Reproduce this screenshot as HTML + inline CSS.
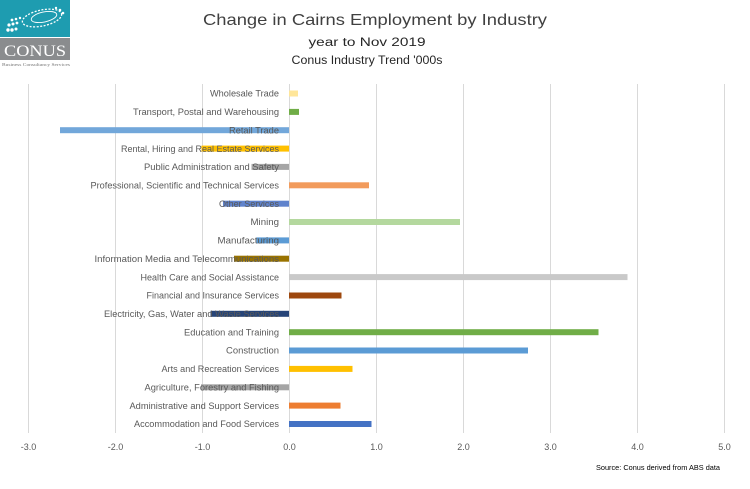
<!DOCTYPE html>
<html><head><meta charset="utf-8"><style>
html,body{margin:0;padding:0;background:#fff;}
svg{display:block;}
text{font-family:"Liberation Sans",sans-serif;}
</style></head><body>
<svg width="750" height="489" viewBox="0 0 750 489" xmlns="http://www.w3.org/2000/svg">
<rect width="750" height="489" fill="#fff"/>
<!-- logo -->
<rect x="0" y="0" width="70" height="37" fill="#1E9CB0"/>
<g fill="#fff">
<ellipse cx="42" cy="18" rx="20" ry="8" fill="none" stroke="#fff" stroke-width="1.3" stroke-dasharray="2 1.5" transform="rotate(-12 42 18)"/>
<ellipse cx="44" cy="17" rx="13" ry="5" fill="none" stroke="#fff" stroke-width="0.9" transform="rotate(-12 44 17)"/>
<circle cx="8" cy="30" r="1.7"/><circle cx="12" cy="30" r="1.7"/><circle cx="16" cy="29" r="1.5"/>
<circle cx="9" cy="25" r="1.6"/><circle cx="13" cy="24" r="1.5"/><circle cx="17" cy="23" r="1.4"/>
<circle cx="12" cy="20" r="1.4"/><circle cx="16" cy="19" r="1.3"/><circle cx="20" cy="18" r="1.2"/>
<circle cx="60" cy="10" r="1.3"/><circle cx="63" cy="13" r="1.3"/><circle cx="56" cy="8" r="1.2"/>
</g>
<rect x="0" y="38" width="70" height="22" fill="#8A8C8E"/>
<text x="35" y="56" font-size="16" fill="#fff" text-anchor="middle" textLength="62" lengthAdjust="spacingAndGlyphs" style="font-family:'Liberation Serif',serif">CONUS</text>
<text x="2" y="66" font-size="4.5" fill="#777" textLength="68" lengthAdjust="spacingAndGlyphs" style="font-family:'Liberation Serif',serif">Business Consultancy Services</text>

<!-- titles -->
<text x="375" y="25" font-size="16" fill="#404040" text-anchor="middle" textLength="344" lengthAdjust="spacingAndGlyphs">Change in Cairns Employment by Industry</text>
<text x="367" y="46" font-size="11.5" fill="#262626" text-anchor="middle" textLength="117" lengthAdjust="spacingAndGlyphs">year to Nov 2019</text>
<text x="367" y="64" font-size="11.5" fill="#262626" text-anchor="middle" textLength="151" lengthAdjust="spacingAndGlyphs">Conus Industry Trend '000s</text>

<!-- gridlines -->
<g stroke="#D9D9D9" stroke-width="1">
<line x1="28.5" y1="84" x2="28.5" y2="433"/>
<line x1="115.5" y1="84" x2="115.5" y2="433"/>
<line x1="202.5" y1="84" x2="202.5" y2="433"/>
<line x1="289.5" y1="84" x2="289.5" y2="433"/>
<line x1="376.5" y1="84" x2="376.5" y2="433"/>
<line x1="463.5" y1="84" x2="463.5" y2="433"/>
<line x1="550.5" y1="84" x2="550.5" y2="433"/>
<line x1="637.5" y1="84" x2="637.5" y2="433"/>
<line x1="724.5" y1="84" x2="724.5" y2="433"/>
</g>

<!-- bars -->
<rect x="289" y="90.5" width="9" height="6" fill="#FFE699"/>
<rect x="289" y="108.9" width="10" height="6" fill="#70AD47"/>
<rect x="60" y="127.2" width="229" height="6" fill="#72A7DA"/>
<rect x="201.5" y="145.6" width="87.5" height="6" fill="#FFC000"/>
<rect x="251.5" y="163.9" width="37.5" height="6" fill="#A5A5A5"/>
<rect x="289" y="182.3" width="80" height="6" fill="#F29B5C"/>
<rect x="223" y="200.7" width="66" height="6" fill="#6083CC"/>
<rect x="289" y="219" width="171" height="6" fill="#B4D89E"/>
<rect x="256.5" y="237.4" width="32.5" height="6" fill="#5B9BD5"/>
<rect x="234" y="255.7" width="55" height="6" fill="#997300"/>
<rect x="289" y="274.1" width="338.5" height="6" fill="#C9C9C9"/>
<rect x="289" y="292.5" width="52.5" height="6" fill="#9E480E"/>
<rect x="210.5" y="310.8" width="78.5" height="6" fill="#264478"/>
<rect x="289" y="329.2" width="309.5" height="6" fill="#70AD47"/>
<rect x="289" y="347.5" width="239" height="6" fill="#5B9BD5"/>
<rect x="289" y="365.9" width="63.5" height="6" fill="#FFC000"/>
<rect x="201" y="384.3" width="88" height="6" fill="#A5A5A5"/>
<rect x="289" y="402.6" width="51.5" height="6" fill="#ED7D31"/>
<rect x="289" y="421" width="82.5" height="6" fill="#4472C4"/>

<!-- category labels -->
<g font-size="9" fill="#595959" text-anchor="end">
<text x="279" y="96.7" textLength="69" lengthAdjust="spacingAndGlyphs">Wholesale Trade</text>
<text x="279" y="115" textLength="146" lengthAdjust="spacingAndGlyphs">Transport, Postal and Warehousing</text>
<text x="279" y="133.4" textLength="50" lengthAdjust="spacingAndGlyphs">Retail Trade</text>
<text x="279" y="151.8" textLength="158" lengthAdjust="spacingAndGlyphs">Rental, Hiring and Real Estate Services</text>
<text x="279" y="170.1" textLength="135" lengthAdjust="spacingAndGlyphs">Public Administration and Safety</text>
<text x="279" y="188.5" textLength="188.5" lengthAdjust="spacingAndGlyphs">Professional, Scientific and Technical Services</text>
<text x="279" y="206.8" textLength="60" lengthAdjust="spacingAndGlyphs">Other Services</text>
<text x="279" y="225.2" textLength="28.5" lengthAdjust="spacingAndGlyphs">Mining</text>
<text x="279" y="243.6" textLength="61.5" lengthAdjust="spacingAndGlyphs">Manufacturing</text>
<text x="279" y="261.9" textLength="184.5" lengthAdjust="spacingAndGlyphs">Information Media and Telecommunications</text>
<text x="279" y="280.3" textLength="138.5" lengthAdjust="spacingAndGlyphs">Health Care and Social Assistance</text>
<text x="279" y="298.6" textLength="132.5" lengthAdjust="spacingAndGlyphs">Financial and Insurance Services</text>
<text x="279" y="317" textLength="175" lengthAdjust="spacingAndGlyphs">Electricity, Gas, Water and Waste Services</text>
<text x="279" y="335.4" textLength="95" lengthAdjust="spacingAndGlyphs">Education and Training</text>
<text x="279" y="353.7" textLength="53" lengthAdjust="spacingAndGlyphs">Construction</text>
<text x="279" y="372.1" textLength="117.5" lengthAdjust="spacingAndGlyphs">Arts and Recreation Services</text>
<text x="279" y="390.4" textLength="134.5" lengthAdjust="spacingAndGlyphs">Agriculture, Forestry and Fishing</text>
<text x="279" y="408.8" textLength="149.5" lengthAdjust="spacingAndGlyphs">Administrative and Support Services</text>
<text x="279" y="427.2" textLength="145" lengthAdjust="spacingAndGlyphs">Accommodation and Food Services</text>
</g>

<!-- axis tick labels -->
<g font-size="9" fill="#595959" text-anchor="middle">
<text x="28.5" y="450">-3.0</text>
<text x="115.5" y="450">-2.0</text>
<text x="202.5" y="450">-1.0</text>
<text x="289.5" y="450">0.0</text>
<text x="376.5" y="450">1.0</text>
<text x="463.5" y="450">2.0</text>
<text x="550.5" y="450">3.0</text>
<text x="637.5" y="450">4.0</text>
<text x="724.5" y="450">5.0</text>
</g>

<text x="596" y="470" font-size="7.5" fill="#000" textLength="124" lengthAdjust="spacingAndGlyphs">Source: Conus derived from ABS data</text>
</svg>
</body></html>
